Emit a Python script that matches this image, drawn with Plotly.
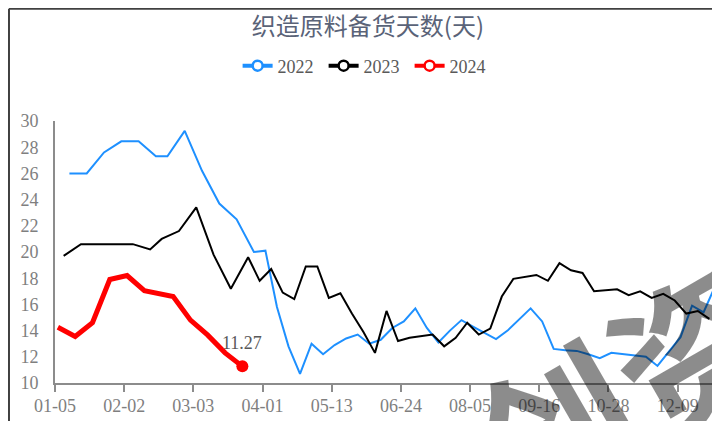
import plotly.graph_objects as go

# Category positions (index on the shared date axis) and values per year
x_2022 = [2, 5, 8, 11, 14, 17, 19, 22, 25, 28, 31, 34,
          36, 38, 40, 42, 44, 46, 48, 50, 52, 54, 56, 58, 60, 62, 64, 66, 68, 70,
          72, 74, 76, 78, 80, 82, 84, 86, 88, 90, 92, 94, 96, 98, 100, 102, 104,
          106, 108, 110, 112, 114]
y_2022 = [26.0, 26.0, 27.6, 28.45, 28.45, 27.3, 27.3, 29.25, 26.2, 23.7, 22.5, 20.0,
          20.1, 15.8, 12.8, 10.7, 13.0, 12.2, 12.9, 13.4, 13.7, 13.0, 13.3, 14.2, 14.7,
          15.7, 14.2, 13.1, 14.0, 14.8, 14.3, 13.8, 13.35, 14.0, 14.85, 15.7, 14.7, 12.6,
          12.5, 12.45, 12.2, 11.9, 12.3, 12.2, 12.1, 12.0, 11.3, 12.4, 13.5, 15.9, 15.4,
          17.4]

x_2023 = [1, 4, 7, 10, 13, 16, 18, 21, 24, 27, 30, 33,
          35, 37, 39, 41, 43, 45, 47, 49, 51, 53, 55, 57, 59, 61, 63, 65, 67, 69,
          71, 73, 75, 77, 79, 81, 83, 85, 87, 89, 91, 93, 95, 97, 99, 101, 103,
          105, 107, 109, 111, 113]
y_2023 = [19.7, 20.6, 20.6, 20.6, 20.6, 20.2, 21.0, 21.6, 23.4, 19.8, 17.2, 19.6,
          17.8, 18.7, 16.9, 16.4, 18.9, 18.9, 16.5, 16.85, 15.3, 13.9, 12.3, 15.5, 13.2,
          13.45, 13.6, 13.7, 12.8, 13.45, 14.6, 13.7, 14.15, 16.6, 17.95, 18.1, 18.25,
          17.8, 19.15, 18.6, 18.4, 17.0, 17.1, 17.15, 16.7, 17.0, 16.5, 16.8, 16.3,
          15.3, 15.5, 14.9]

x_2024 = [0, 3, 6, 9, 12, 15, 20, 23, 26, 29, 32]
y_2024 = [14.25, 13.55, 14.6, 17.9, 18.2, 17.05, 16.6, 14.8, 13.65, 12.3, 11.27]

tick_labels = ["01-05", "02-02", "03-03", "04-01", "05-13",
               "06-24", "08-05", "09-16", "10-28", "12-09"]
n_categories = 115
label_step = 12

BLUE = "#1E90FF"
BLACK = "#000000"
RED = "#FF0000"
AXIS = "#8C8C8C"
SERIF = "Liberation Serif"

fig = go.Figure()

# series lines
fig.add_trace(go.Scatter(x=x_2022, y=y_2022, mode="lines",
                         line=dict(color=BLUE, width=2), showlegend=False))
fig.add_trace(go.Scatter(x=x_2023, y=y_2023, mode="lines",
                         line=dict(color=BLACK, width=2), showlegend=False))
fig.add_trace(go.Scatter(x=x_2024, y=y_2024, mode="lines",
                         line=dict(color=RED, width=5), showlegend=False))
fig.add_trace(go.Scatter(x=x_2024[-1:], y=y_2024[-1:], mode="markers",
                         marker=dict(color=RED, size=12), showlegend=False))

# legend entries (line with open circle)
for name, color in [("2022", BLUE), ("2023", BLACK), ("2024", RED)]:
    fig.add_trace(go.Scatter(
        x=[None], y=[None], mode="lines+markers", name=name,
        line=dict(color=color, width=4),
        marker=dict(symbol="circle", size=10, color="white",
                    line=dict(color=color, width=2.5)),
    ))

# data label on the last 2024 point
fig.add_annotation(x=x_2024[-1], y=y_2024[-1], text=f"{y_2024[-1]:.2f}",
                   showarrow=False, yshift=23,
                   font=dict(family=SERIF, size=18, color="#595959"))

# watermark fragment (bottom right)
fig.add_annotation(xref="paper", yref="paper", x=0.853, y=-0.009,
                   xanchor="center", yanchor="middle",
                   text="卓创资讯", showarrow=False, textangle=-30,
                   font=dict(family="Noto Sans CJK SC", size=160,
                             color="rgba(0,0,0,0.45)", weight="bold"))

# chart frame (top and left edges)
fig.add_shape(type="line", xref="paper", yref="paper",
              x0=-0.0694, x1=1.01, y0=1.428, y1=1.428,
              line=dict(color="#404040", width=2))
fig.add_shape(type="line", xref="paper", yref="paper",
              x0=-0.0694, x1=-0.0694, y0=1.428, y1=-0.2,
              line=dict(color="#404040", width=2))

# page body adds an 8px offset, so the figure is 8px smaller each way
fig.update_layout(
    width=712, height=413,
    margin=dict(l=47, r=2, t=113, b=38, autoexpand=False),
    paper_bgcolor="white", plot_bgcolor="white",
    title=dict(text="织造原料备货天数(天)", x=0.5056, y=0.954,
               xanchor="center", yanchor="middle",
               font=dict(family="Noto Sans CJK SC", size=24, color="#5A6378")),
    legend=dict(orientation="h", x=0.47, y=1.21, xanchor="center",
                yanchor="middle", font=dict(family=SERIF, size=18, color="#595959"),
                entrywidth=41, bgcolor="rgba(0,0,0,0)"),
)

fig.update_xaxes(
    range=[-0.5, n_categories - 0.5],
    tickmode="array",
    tickvals=[-0.5 + label_step * i for i in range(len(tick_labels))],
    ticktext=tick_labels,
    ticks="outside", ticklen=7, tickwidth=1.5, tickcolor=AXIS,
    ticklabelstandoff=-2,
    showline=True, linecolor=AXIS, linewidth=2,
    showgrid=False, zeroline=False, automargin=False,
    tickfont=dict(family=SERIF, size=18, color="#7F7F7F"),
)
fig.update_yaxes(
    range=[10, 30], dtick=2, tick0=10,
    showline=True, linecolor=AXIS, linewidth=2, mirror=True,
    ticks="", ticklabelstandoff=11,
    showgrid=False, zeroline=False, automargin=False,
    tickfont=dict(family=SERIF, size=18, color="#7F7F7F"),
)

fig.write_html("out.html")
